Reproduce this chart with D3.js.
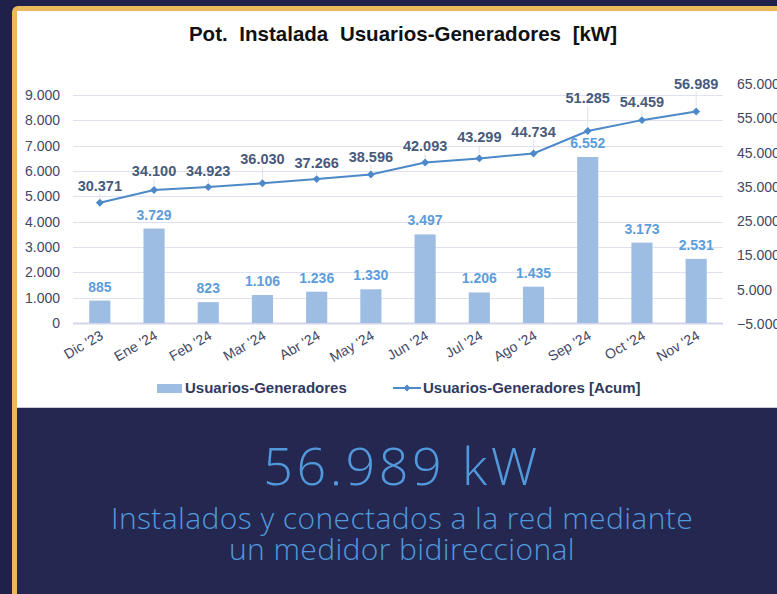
<!DOCTYPE html>
<html>
<head>
<meta charset="utf-8">
<script src="https://cdn.jsdelivr.net/npm/d3@7"></script>
<style>
  html, body { margin: 0; padding: 0; background: #20214a; }
  svg { display: block; }
</style>
</head>
<body>
<div id="chart"></div>
<script>
const months = ["Dic '23", "Ene '24", "Feb '24", "Mar '24", "Abr '24", "May '24",
                "Jun '24", "Jul '24", "Ago '24", "Sep '24", "Oct '24", "Nov '24"];
const monthly = [885, 3729, 823, 1106, 1236, 1330, 3497, 1206, 1435, 6552, 3173, 2531];
const accum = [30371, 34100, 34923, 36030, 37266, 38596, 42093, 43299, 44734, 51285, 54459, 56989];
const leftTicks = [0, 1000, 2000, 3000, 4000, 5000, 6000, 7000, 8000, 9000];
const rightTicks = [-5000, 5000, 15000, 25000, 35000, 45000, 55000, 65000];
// how far each accumulated label sits above its point
const accumLift = [17, 19, 16, 24, 16, 18, 17, 21, 22, 33, 18, 28];

const W = 777, H = 594;
const fmt = v => d3.format(",")(v).replace(/,/g, ".");

const svg = d3.select("#chart").append("svg")
    .attr("width", W)
    .attr("height", H);

// frame
svg.append("rect").attr("x", 0).attr("y", 0).attr("width", W).attr("height", H).attr("fill", "#20214a");
svg.append("rect").attr("x", 12).attr("y", 6).attr("width", 900).attr("height", 900).attr("rx", 6).attr("fill", "#e9b95c");
svg.append("rect").attr("x", 17).attr("y", 11).attr("width", 900).attr("height", 396).attr("fill", "#ffffff");
svg.append("rect").attr("x", 17).attr("y", 407).attr("width", 900).attr("height", 300).attr("fill", "#242750");
svg.append("line").attr("x1", 17).attr("x2", W).attr("y1", 407.5).attr("y2", 407.5)
    .attr("stroke", "#c9cbd8").attr("stroke-width", 1);

svg.append("text")
    .attr("x", 403).attr("y", 41)
    .attr("text-anchor", "middle")
    .attr("font-family", "Liberation Sans, Arial, sans-serif")
    .attr("font-weight", "bold")
    .attr("font-size", 20.5)
    .attr("word-spacing", 6)
    .attr("fill", "#111")
    .text("Pot. Instalada Usuarios-Generadores [kW]");

const x = d3.scaleBand()
    .domain(months)
    .range([73, 723])
    .paddingInner(0.61)
    .paddingOuter(0.3);

const y = d3.scaleLinear().domain([0, 9000]).range([323, 95]);
const y2 = d3.scaleLinear().domain([-5000, 65000]).range([324, 84]);

const g = svg.append("g").attr("font-family", "Liberation Sans, Arial, sans-serif");

// gridlines
g.append("g")
    .selectAll("line")
    .data(leftTicks)
    .join("line")
    .attr("x1", 73).attr("x2", 723)
    .attr("y1", d => Math.round(y(d)) + 0.5)
    .attr("y2", d => Math.round(y(d)) + 0.5)
    .attr("stroke", d => d === 0 ? "#d3d6ea" : "#dfe1f1")
    .attr("stroke-width", d => d === 0 ? 2 : 1.2);

// left axis
const yAxis = d3.axisLeft(y).tickValues(leftTicks).tickFormat(fmt).tickSize(0).tickPadding(0);
g.append("g")
    .attr("transform", "translate(60,0)")
    .call(yAxis)
    .call(a => a.select(".domain").remove())
    .selectAll("text")
    .attr("font-family", "Liberation Sans, Arial, sans-serif")
    .attr("font-size", 14)
    .attr("fill", "#3f4866");

// right axis
const y2Axis = d3.axisRight(y2).tickValues(rightTicks).tickFormat(fmt).tickSize(0).tickPadding(0);
g.append("g")
    .attr("transform", "translate(737,0)")
    .call(y2Axis)
    .call(a => a.select(".domain").remove())
    .selectAll("text")
    .attr("font-family", "Liberation Sans, Arial, sans-serif")
    .attr("font-size", 14)
    .attr("fill", "#3f4866");

// x labels
g.append("g")
    .selectAll("text")
    .data(months)
    .join("text")
    .attr("transform", d => `translate(${x(d) + x.bandwidth() / 2 + 2},${334}) rotate(-30)`)
    .attr("text-anchor", "end")
    .attr("dy", "0.35em")
    .attr("font-size", 14)
    .attr("fill", "#3f4866")
    .text(d => d);

// bars
g.append("g")
    .selectAll("rect")
    .data(monthly)
    .join("rect")
    .attr("x", (d, i) => x(months[i]))
    .attr("width", x.bandwidth())
    .attr("y", d => y(d))
    .attr("height", d => y(0) - y(d))
    .attr("fill", "#9dbde3");

g.append("g")
    .selectAll("text")
    .data(monthly)
    .join("text")
    .attr("x", (d, i) => x(months[i]) + x.bandwidth() / 2)
    .attr("y", d => y(d) - 9)
    .attr("text-anchor", "middle")
    .attr("font-weight", "bold")
    .attr("font-size", 14)
    .attr("fill", "#5d9ddb")
    .text(fmt);

// accumulated line
const cx = i => x(months[i]) + x.bandwidth() / 2;
const line = d3.line()
    .x((d, i) => cx(i))
    .y(d => y2(d));

g.append("path")
    .datum(accum)
    .attr("d", line)
    .attr("fill", "none")
    .attr("stroke", "#4d89c8")
    .attr("stroke-width", 2);

// leader lines
g.append("g")
    .selectAll("line")
    .data(accum)
    .join("line")
    .attr("x1", (d, i) => cx(i))
    .attr("x2", (d, i) => cx(i))
    .attr("y1", d => y2(d) - 4)
    .attr("y2", (d, i) => y2(d) - accumLift[i] + 8)
    .attr("stroke", "#e2e2e2")
    .attr("stroke-width", 1);

g.append("g")
    .selectAll("path")
    .data(accum)
    .join("path")
    .attr("transform", (d, i) => `translate(${cx(i)},${y2(d)})`)
    .attr("d", d3.symbol(d3.symbolDiamond2, 40))
    .attr("fill", "#4d89c8");

g.append("g")
    .selectAll("text")
    .data(accum)
    .join("text")
    .attr("x", (d, i) => cx(i))
    .attr("y", (d, i) => y2(d) - accumLift[i])
    .attr("dy", "0.35em")
    .attr("text-anchor", "middle")
    .attr("font-weight", "bold")
    .attr("font-size", 14.5)
    .attr("fill", "#475a7c")
    .text(fmt);

// legend
const leg = g.append("g");
leg.append("rect").attr("x", 157).attr("y", 384).attr("width", 25).attr("height", 9).attr("fill", "#9dbde3");
leg.append("text").attr("x", 185).attr("y", 393)
    .attr("font-weight", "bold").attr("font-size", 15).attr("fill", "#2f3a5e")
    .text("Usuarios-Generadores");
leg.append("line").attr("x1", 393).attr("x2", 421).attr("y1", 388).attr("y2", 388)
    .attr("stroke", "#4d89c8").attr("stroke-width", 2);
leg.append("path").attr("transform", "translate(407,388)")
    .attr("d", d3.symbol(d3.symbolDiamond2, 30)).attr("fill", "#4d89c8");
leg.append("text").attr("x", 423).attr("y", 393)
    .attr("font-weight", "bold").attr("font-size", 15).attr("fill", "#2f3a5e")
    .text("Usuarios-Generadores [Acum]");

// headline below
const big = svg.append("g")
    .attr("font-family", "Open Sans, Lato, sans-serif")
    .attr("font-weight", 300)
    .attr("fill", "#5299dc")
    .attr("text-anchor", "middle");
big.append("text").attr("x", 402).attr("y", 485).attr("font-size", 52).attr("letter-spacing", 3.5)
    .text(fmt(accum[accum.length - 1]) + " kW");
big.append("text").attr("x", 402).attr("y", 529).attr("font-size", 30).attr("letter-spacing", 0.4)
    .text("Instalados y conectados a la red mediante");
big.append("text").attr("x", 402).attr("y", 560).attr("font-size", 30).attr("letter-spacing", 0.4)
    .text("un medidor bidireccional");
</script>
</body>
</html>
